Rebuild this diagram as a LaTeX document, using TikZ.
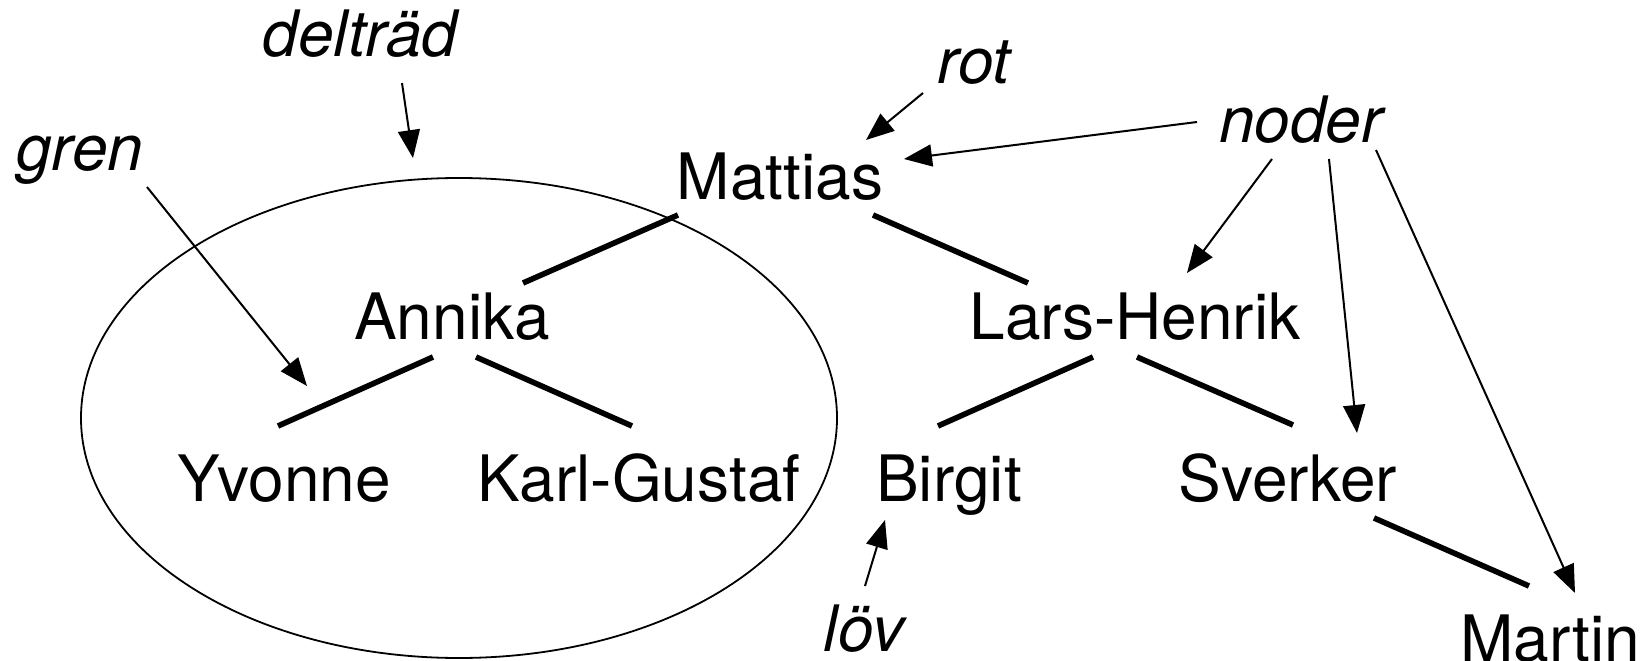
\documentclass[tikz,border=0pt]{standalone}
\usepackage{fontspec}
\setmainfont{TeX Gyre Heros}
\usetikzlibrary{arrows.meta,shapes.geometric}
\begin{document}
\begin{tikzpicture}[x=1pt,y=-1pt,
  person/.style={anchor=base,inner sep=0pt,font=\fontsize{64}{77}\selectfont},
  remark/.style={anchor=base,inner sep=0pt,font=\fontsize{64}{77}\selectfont\itshape},
  branch/.style={line width=5.6pt},
  pointer/.style={line width=2pt,-{Triangle[length=28pt,width=22pt]}},
]
\useasboundingbox (0,0) rectangle (1642,661);

% the subtree rooted at Annika
\node[draw,ellipse,line width=1.8pt,minimum width=756pt,minimum height=480pt,inner sep=0pt]
  (subtree) at (459,418) {};

% tree nodes
\node[person] (Mattias) at (780,199) {Mattias};
\node[person] (Annika)  at (452,339) {Annika};
\node[person] (Lars)    at (1135,339) {Lars-Henrik};
\node[person] (Yvonne)  at (284,501) {Yvonne};
\node[person] (Karl)    at (639,501) {Karl-Gustaf};
\node[person] (Birgit)  at (949,501) {Birgit};
\node[person] (Sverker) at (1288,501) {Sverker};
\node[person] (Martin)  at (1550,661) {Martin};

% terms
\node[remark] (deltrad) at (360,57)  {delträd};
\node[remark] (gren)    at (80,170)  {gren};
\node[remark] (rot)     at (974,84)  {rot};
\node[remark] (noder)   at (1301,142) {noder};
\node[remark] (lov)     at (864,651) {löv};

% branches
\draw[branch] ([shift={(-102,16)}]Mattias.base) -- ([shift={(71,-56)}]Annika.base);
\draw[branch] ([shift={(93,16)}]Mattias.base)   -- ([shift={(-107,-56)}]Lars.base);
\draw[branch] ([shift={(-19,18)}]Annika.base)   -- ([shift={(-6,-75)}]Yvonne.base);
\draw[branch] ([shift={(24,18)}]Annika.base)    -- ([shift={(-7,-75)}]Karl.base);
\draw[branch] ([shift={(-42,18)}]Lars.base)     -- ([shift={(-11,-75)}]Birgit.base);
\draw[branch] ([shift={(2,18)}]Lars.base)       -- ([shift={(5,-76)}]Sverker.base);
\draw[branch] ([shift={(86,17)}]Sverker.base)   -- ([shift={(-21,-75)}]Martin.base);

% point on the Annika--Yvonne branch
\coordinate (grenpt) at (307,386);

% pointers from the terms
\draw[pointer] ([shift={(42,26)}]deltrad.base) -- ([shift={(-46,-19)}]subtree.north);
\draw[pointer] ([shift={(67,17)}]gren.base) -- (grenpt);
\draw[pointer] ([shift={(-51,9)}]rot.base) -- ([shift={(86,-59)}]Mattias.base);
\draw[pointer] ([shift={(-104,-20)}]noder.base) -- ([shift={(124,-40)}]Mattias.base);
\draw[pointer] ([shift={(-29,17)}]noder.base) -- ([shift={(52,-66)}]Lars.base);
\draw[pointer] ([shift={(28,17)}]noder.base) -- ([shift={(69,-68)}]Sverker.base);
\draw[pointer] ([shift={(75,8)}]noder.base) -- ([shift={(25,-68)}]Martin.base);
\draw[pointer] ([shift={(1,-65)}]lov.base) -- ([shift={(-64,19)}]Birgit.base);
\end{tikzpicture}
\end{document}
